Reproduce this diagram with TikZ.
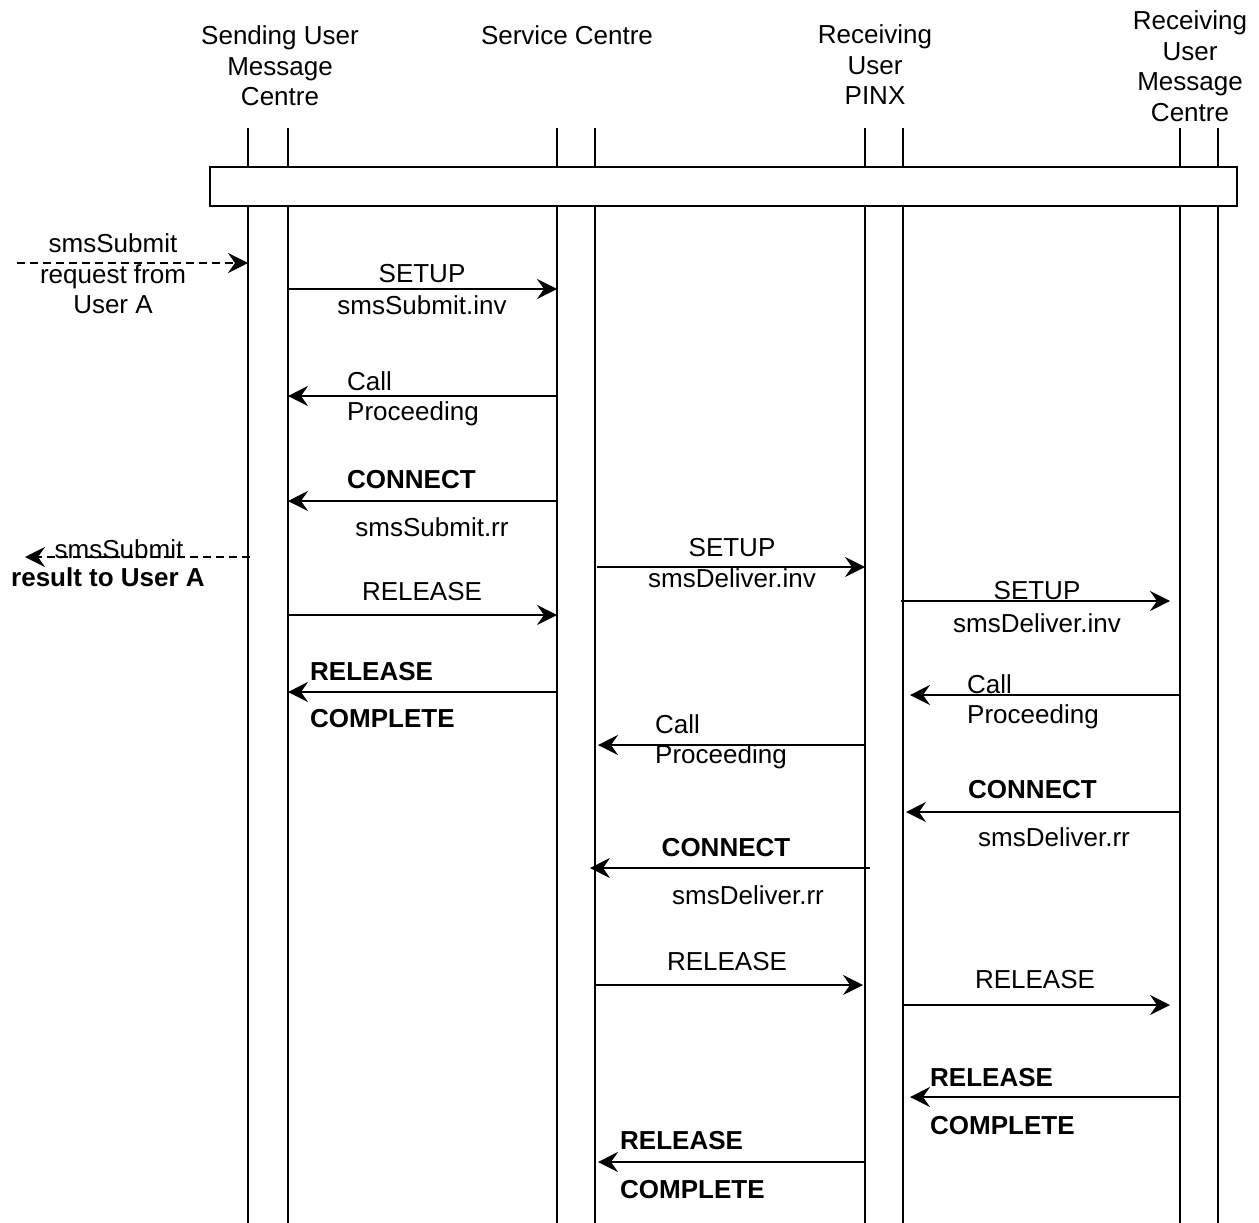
\documentclass[tikz,border=0pt]{standalone}
\usepackage{fontspec}
\setmainfont{Liberation Sans}
\usetikzlibrary{arrows.meta}
\usetikzlibrary{positioning}

\tikzset{
  msg/.style={line width=1.5pt, -{Stealth[length=20pt,width=20pt,inset=7pt]}},
  ext/.style={msg, dash pattern=on 8pt off 5pt},
  lbl/.style={inner sep=0pt, align=center, font=\fontsize{26}{30.5}\selectfont},
  blbl/.style={lbl, font=\fontsize{26}{30.5}\selectfont\bfseries},
  lft/.style={anchor=west, align=left},
}

\begin{document}
\begin{tikzpicture}[x=1pt,y=-1pt]
  \useasboundingbox (0,0) rectangle (1259,1223);

  % lifelines
  \foreach \n/\x in {sa/248,sb/288,ca/557,cb/595,pa/865,pb/903,ra/1180,rb/1218} {
    \coordinate (\n) at (\x,128);
    \coordinate (\n end) at (\x,1223);
    \draw[line width=1.5pt] (\n) -- (\n end);
  }
  \node[draw, fill=white, line width=1.5pt, inner sep=0pt,
        minimum width=1027pt, minimum height=39pt] (bar) at (723.5,186.5) {};

  \node[lbl] (hdSend) at (280,66) {Sending User\\Message\\Centre};
  \node[lbl] (hdServ) at (567,35) {Service Centre};
  \node[lbl] (hdPinx) at (875,65) {Receiving\\User\\PINX};
  \node[lbl] (hdRumc) at (1190,66) {Receiving\\User\\Message\\Centre};

  % messages
  \foreach \m/\xa/\xb/\y in {m1/288/557/289, m2/557/288/396, m3/557/288/501,
      m4/597/865/567, m5/288/557/615, m6/901/1170/601, m7/557/288/692,
      m8/1180/910/695, m9/865/598/745, m10/1180/906/812, m11/870/590/868,
      m12/595/863/985, m13/903/1170/1005, m14/1180/910/1097, m15/865/598/1162} {
    \coordinate (\m s) at (\xa,\y);
    \coordinate (\m e) at (\xb,\y);
    \draw[msg] (\m s) -- (\m e);
  }
  \coordinate (inS) at (17,263);
  \coordinate (inE) at (248,263);
  \draw[ext] (inS) -- (inE);
  \coordinate (outS) at (250,557);
  \coordinate (outE) at (25,557);
  \draw[ext] (outS) -- (outE);

  \node[lbl] (inTxt) at (113,274) {smsSubmit\\request from\\User A};
  \node[lbl] (outTxt) at (119,549) {smsSubmit};
  \node[blbl] (outRes) at (108,577) {result to User A};

  \node[lbl] (m1a) at (422,274) {SETUP};
  \node[lbl] (m1b) at (422,305) {smsSubmit.inv};
  \node[lbl, lft] (m2a) at (347,399) {Call\\Proceeding};
  \node[blbl, anchor=west] (m3a) at (347,480) {CONNECT};
  \node[lbl] (m3b) at (432,527) {smsSubmit.rr};
  \node[lbl] (m4a) at (732,548) {SETUP};
  \node[lbl] (m4b) at (732,578) {smsDeliver.inv};
  \node[lbl] (m5a) at (422,592) {RELEASE};
  \node[lbl] (m6a) at (1037,591) {SETUP};
  \node[lbl] (m6b) at (1037,623) {smsDeliver.inv};
  \node[blbl, anchor=west] (m7a) at (310,672) {RELEASE};
  \node[blbl, anchor=west] (m7b) at (310,719) {COMPLETE};
  \node[lbl, lft] (m8a) at (967,702) {Call\\Proceeding};
  \node[lbl, lft] (m9a) at (655,742) {Call\\Proceeding};
  \node[blbl, anchor=west] (m10a) at (968,790) {CONNECT};
  \node[lbl] (m10b) at (1054,837) {smsDeliver.rr};
  \node[blbl] (m11a) at (726,848) {CONNECT};
  \node[lbl] (m11b) at (748,895) {smsDeliver.rr};
  \node[lbl] (m12a) at (727,962) {RELEASE};
  \node[lbl] (m13a) at (1035,980) {RELEASE};
  \node[blbl, anchor=west] (m14a) at (930,1078) {RELEASE};
  \node[blbl, anchor=west] (m14b) at (930,1126) {COMPLETE};
  \node[blbl, anchor=west] (m15a) at (620,1141) {RELEASE};
  \node[blbl, anchor=west] (m15b) at (620,1190) {COMPLETE};
\end{tikzpicture}
\end{document}
